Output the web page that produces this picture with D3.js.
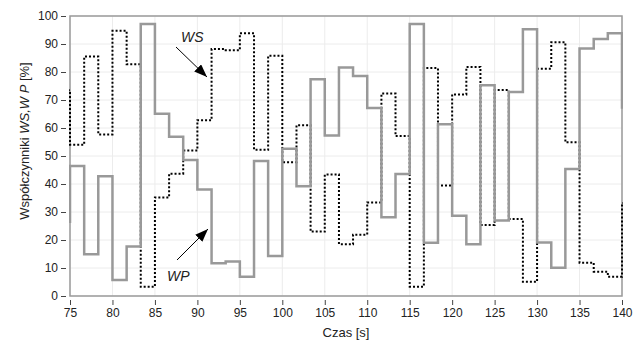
<!DOCTYPE html>
<html>
<head>
<meta charset="utf-8">
<script src="https://cdn.jsdelivr.net/npm/d3@7"></script>
<style>
  body { margin: 0; background: #fff; }
  text { font-family: "Liberation Sans", Arial, sans-serif; }
</style>
</head>
<body>
<div id="chart"></div>
<script>
// step change times [s], incl. one step before 75 and one after 140
const times = [73.33, 75, 76.67, 78.33, 80, 81.67, 83.33, 85, 86.67, 88.33, 90,
    91.67, 93.33, 95, 96.67, 98.33, 100, 101.67, 103.33, 105, 106.67, 108.33, 110,
    111.67, 113.33, 115, 116.67, 118.33, 120, 121.67, 123.33, 125, 126.67, 128.33, 130,
    131.67, 133.33, 135, 136.67, 138.33, 140, 141.67];

const wp = [26.5, 46.4, 14.9, 42.8, 5.7, 17.7, 97.1, 65.1, 56.9, 48.6, 38.0,
    11.7, 12.3, 6.9, 48.2, 14.3, 52.6, 39.2, 77.4, 57.3, 81.6, 78.6, 67.1,
    28.1, 43.6, 97.1, 19.0, 61.3, 28.7, 18.5, 75.3, 27.0, 72.9, 95.3, 19.1,
    10.1, 45.4, 88.4, 91.8, 93.8, 67.3, 67.3];

const ws = [73.5, 54.0, 85.5, 57.7, 94.7, 82.8, 3.3, 35.2, 43.7, 52.0, 62.8,
    88.2, 87.8, 93.8, 52.2, 85.8, 47.8, 61.0, 23.0, 43.4, 18.5, 21.9, 33.4,
    72.3, 57.1, 3.3, 81.4, 39.5, 72.0, 81.8, 25.4, 73.6, 27.5, 5.1, 81.2,
    90.6, 54.9, 11.9, 8.7, 6.9, 33.2, 33.2];

const xTicks = [75, 80, 85, 90, 95, 100, 105, 110, 115, 120, 125, 130, 135, 140];
const yTicks = [0, 10, 20, 30, 40, 50, 60, 70, 80, 90, 100];

const width = 633, height = 340;
const margin = {top: 16, right: 11, bottom: 44, left: 70};

const svg = d3.select("#chart").append("svg")
    .attr("width", width)
    .attr("height", height);

const x = d3.scaleLinear().domain([75, 140]).range([margin.left, width - margin.right]);
const y = d3.scaleLinear().domain([0, 100]).range([height - margin.bottom, margin.top]);

// grid
svg.append("g").selectAll("line.gx")
    .data(xTicks).enter().append("line")
    .attr("x1", d => x(d)).attr("x2", d => x(d))
    .attr("y1", y(0)).attr("y2", y(100))
    .style("stroke", "#ececec");
svg.append("g").selectAll("line.gy")
    .data(yTicks).enter().append("line")
    .attr("x1", x(75)).attr("x2", x(140))
    .attr("y1", d => y(d)).attr("y2", d => y(d))
    .style("stroke", "#ececec");

// axes (ticks offset a little from the frame)
const xAxis = svg.append("g")
    .attr("transform", `translate(0,${y(0) + 4})`)
    .call(d3.axisBottom(x).tickValues(xTicks).tickSize(5).tickPadding(3));
const yAxis = svg.append("g")
    .attr("transform", `translate(${x(75) - 4},0)`)
    .call(d3.axisLeft(y).tickValues(yTicks).tickSize(5).tickPadding(3));
[xAxis, yAxis].forEach(a => {
    a.select(".domain").remove();
    a.selectAll("line").style("stroke", "#444");
    a.selectAll("text").style("font-size", "12px").style("fill", "#222");
});

// frame
svg.append("rect")
    .attr("x", x(75)).attr("y", y(100))
    .attr("width", x(140) - x(75)).attr("height", y(0) - y(100))
    .style("fill", "none").style("stroke", "#9a9a9a").style("stroke-width", 1.5);

svg.append("clipPath").attr("id", "clip")
    .append("rect")
    .attr("x", x(75) - 1).attr("y", y(100) - 2)
    .attr("width", x(140) - x(75) + 2).attr("height", y(0) - y(100) + 4);

const line = series => d3.line()
    .x((d, i) => x(times[i]))
    .y(d => y(d))
    .curve(d3.curveStepAfter)(series);

const plot = svg.append("g").attr("clip-path", "url(#clip)");

plot.append("path")
    .attr("d", line(ws))
    .style("fill", "none")
    .style("stroke", "#000")
    .style("stroke-width", 2)
    .style("stroke-dasharray", "2,2");

plot.append("path")
    .attr("d", line(wp))
    .style("fill", "none")
    .style("stroke", "#999")
    .style("stroke-width", 2.5);

// annotations
svg.append("defs").append("marker")
    .attr("id", "arrow")
    .attr("viewBox", "0 0 13 10")
    .attr("refX", 13).attr("refY", 5)
    .attr("markerWidth", 13).attr("markerHeight", 10)
    .attr("markerUnits", "userSpaceOnUse")
    .attr("orient", "auto")
    .append("path")
    .attr("d", "M0,0 L13,5 L0,10 Z")
    .style("fill", "#000");

svg.append("line")
    .attr("x1", 176).attr("y1", 47).attr("x2", 207).attr("y2", 77)
    .style("stroke", "#000").style("stroke-width", 1)
    .attr("marker-end", "url(#arrow)");
svg.append("line")
    .attr("x1", 177).attr("y1", 260).attr("x2", 208).attr("y2", 229)
    .style("stroke", "#000").style("stroke-width", 1)
    .attr("marker-end", "url(#arrow)");

svg.append("text")
    .attr("x", 181).attr("y", 42)
    .style("font-size", "14px").style("font-style", "italic").style("fill", "#222")
    .text("WS");
svg.append("text")
    .attr("x", 167).attr("y", 281)
    .style("font-size", "14px").style("font-style", "italic").style("fill", "#222")
    .text("WP");

// axis titles
svg.append("text")
    .attr("x", (x(75) + x(140)) / 2).attr("y", 337)
    .attr("text-anchor", "middle")
    .style("font-size", "13px").style("fill", "#222")
    .text("Czas [s]");

const yt = svg.append("text")
    .attr("transform", "translate(29,141) rotate(-90)")
    .attr("text-anchor", "middle")
    .style("font-size", "13px").style("fill", "#222");
yt.append("tspan").text("Współczynniki ");
yt.append("tspan").style("font-style", "italic").text("WS,W P");
yt.append("tspan").text(" [%]");
</script>
</body>
</html>
